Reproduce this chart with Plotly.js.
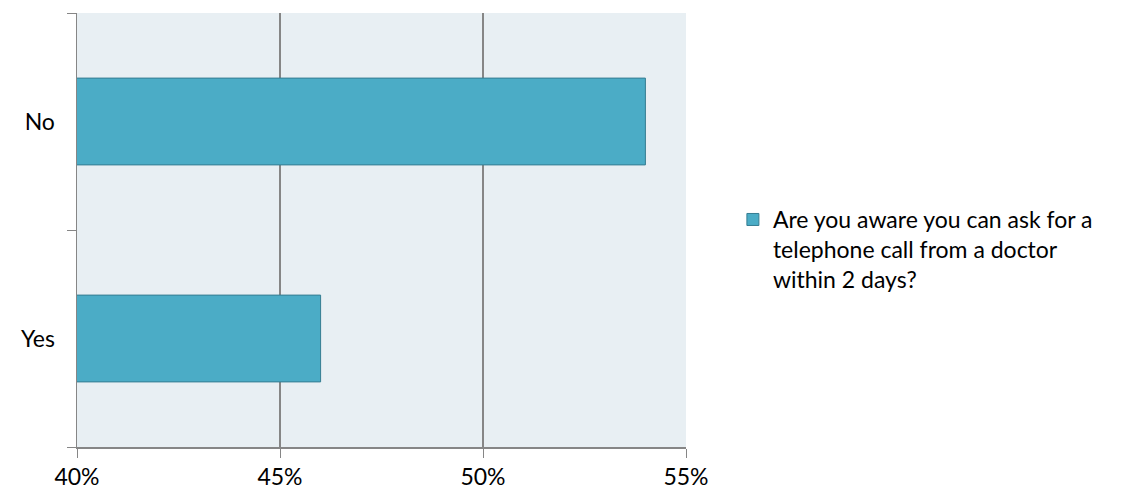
<!DOCTYPE html>
<html>
<head>
<meta charset="utf-8">
<script src="https://cdn.plot.ly/plotly-3.0.1.min.js"></script>
<style>html,body{margin:0;padding:0;background:#fff;}#chart{width:1125px;height:495px;}</style>
</head>
<body>
<div id="chart"></div>
<script>
const categories = ["Yes", "No"];
const values = [0.46, 0.54];
const seriesName = "Are you aware you can ask for a<br>telephone call from a doctor<br>within 2 days?";
const xTickVals = [0.40, 0.45, 0.50, 0.55];
const xTickText = ["40%", "45%", "50%", "55%"];

const trace = {
  type: "bar",
  orientation: "h",
  y: categories,
  x: values,
  base: 0,
  name: seriesName,
  width: 0.4,
  marker: {color: "#4BACC6", line: {color: "#357D91", width: 1}},
  showlegend: true,
  hoverinfo: "x+y"
};

const layout = {
  width: 1125,
  height: 495,
  margin: {l: 77, r: 439, t: 13, b: 48},
  paper_bgcolor: "#ffffff",
  plot_bgcolor: "#E8EFF3",
  font: {family: "Lato, 'Open Sans', sans-serif", size: 23, color: "#000"},
  bargap: 0.6,
  xaxis: {
    range: [0.40, 0.55],
    tickvals: xTickVals,
    ticktext: xTickText,
    showgrid: true,
    gridcolor: "#868686",
    gridwidth: 1.5,
    zeroline: false,
    showline: true,
    linecolor: "#868686",
    linewidth: 1.5,
    ticks: "outside",
    ticklen: 9,
    tickcolor: "#868686",
    tickfont: {size: 23, color: "#000"},
    fixedrange: true
  },
  yaxis: {
    type: "category",
    categoryorder: "array",
    categoryarray: categories,
    range: [-0.5, 1.5],
    showgrid: false,
    zeroline: false,
    showline: true,
    linecolor: "#868686",
    linewidth: 1.5,
    ticks: "outside",
    tickson: "boundaries",
    ticklen: 9,
    tickcolor: "#868686",
    ticklabelstandoff: 16,
    tickfont: {size: 23, color: "#000"},
    fixedrange: true
  },
  legend: {
    x: 1.077,
    xanchor: "left",
    y: 0.455,
    yanchor: "middle",
    valign: "top",
    bgcolor: "rgba(0,0,0,0)",
    font: {size: 23, color: "#000"},
    itemwidth: 30,
    tracegroupgap: 0
  }
};

Plotly.newPlot("chart", [trace], layout, {displayModeBar: false, staticPlot: true});
</script>
</body>
</html>
